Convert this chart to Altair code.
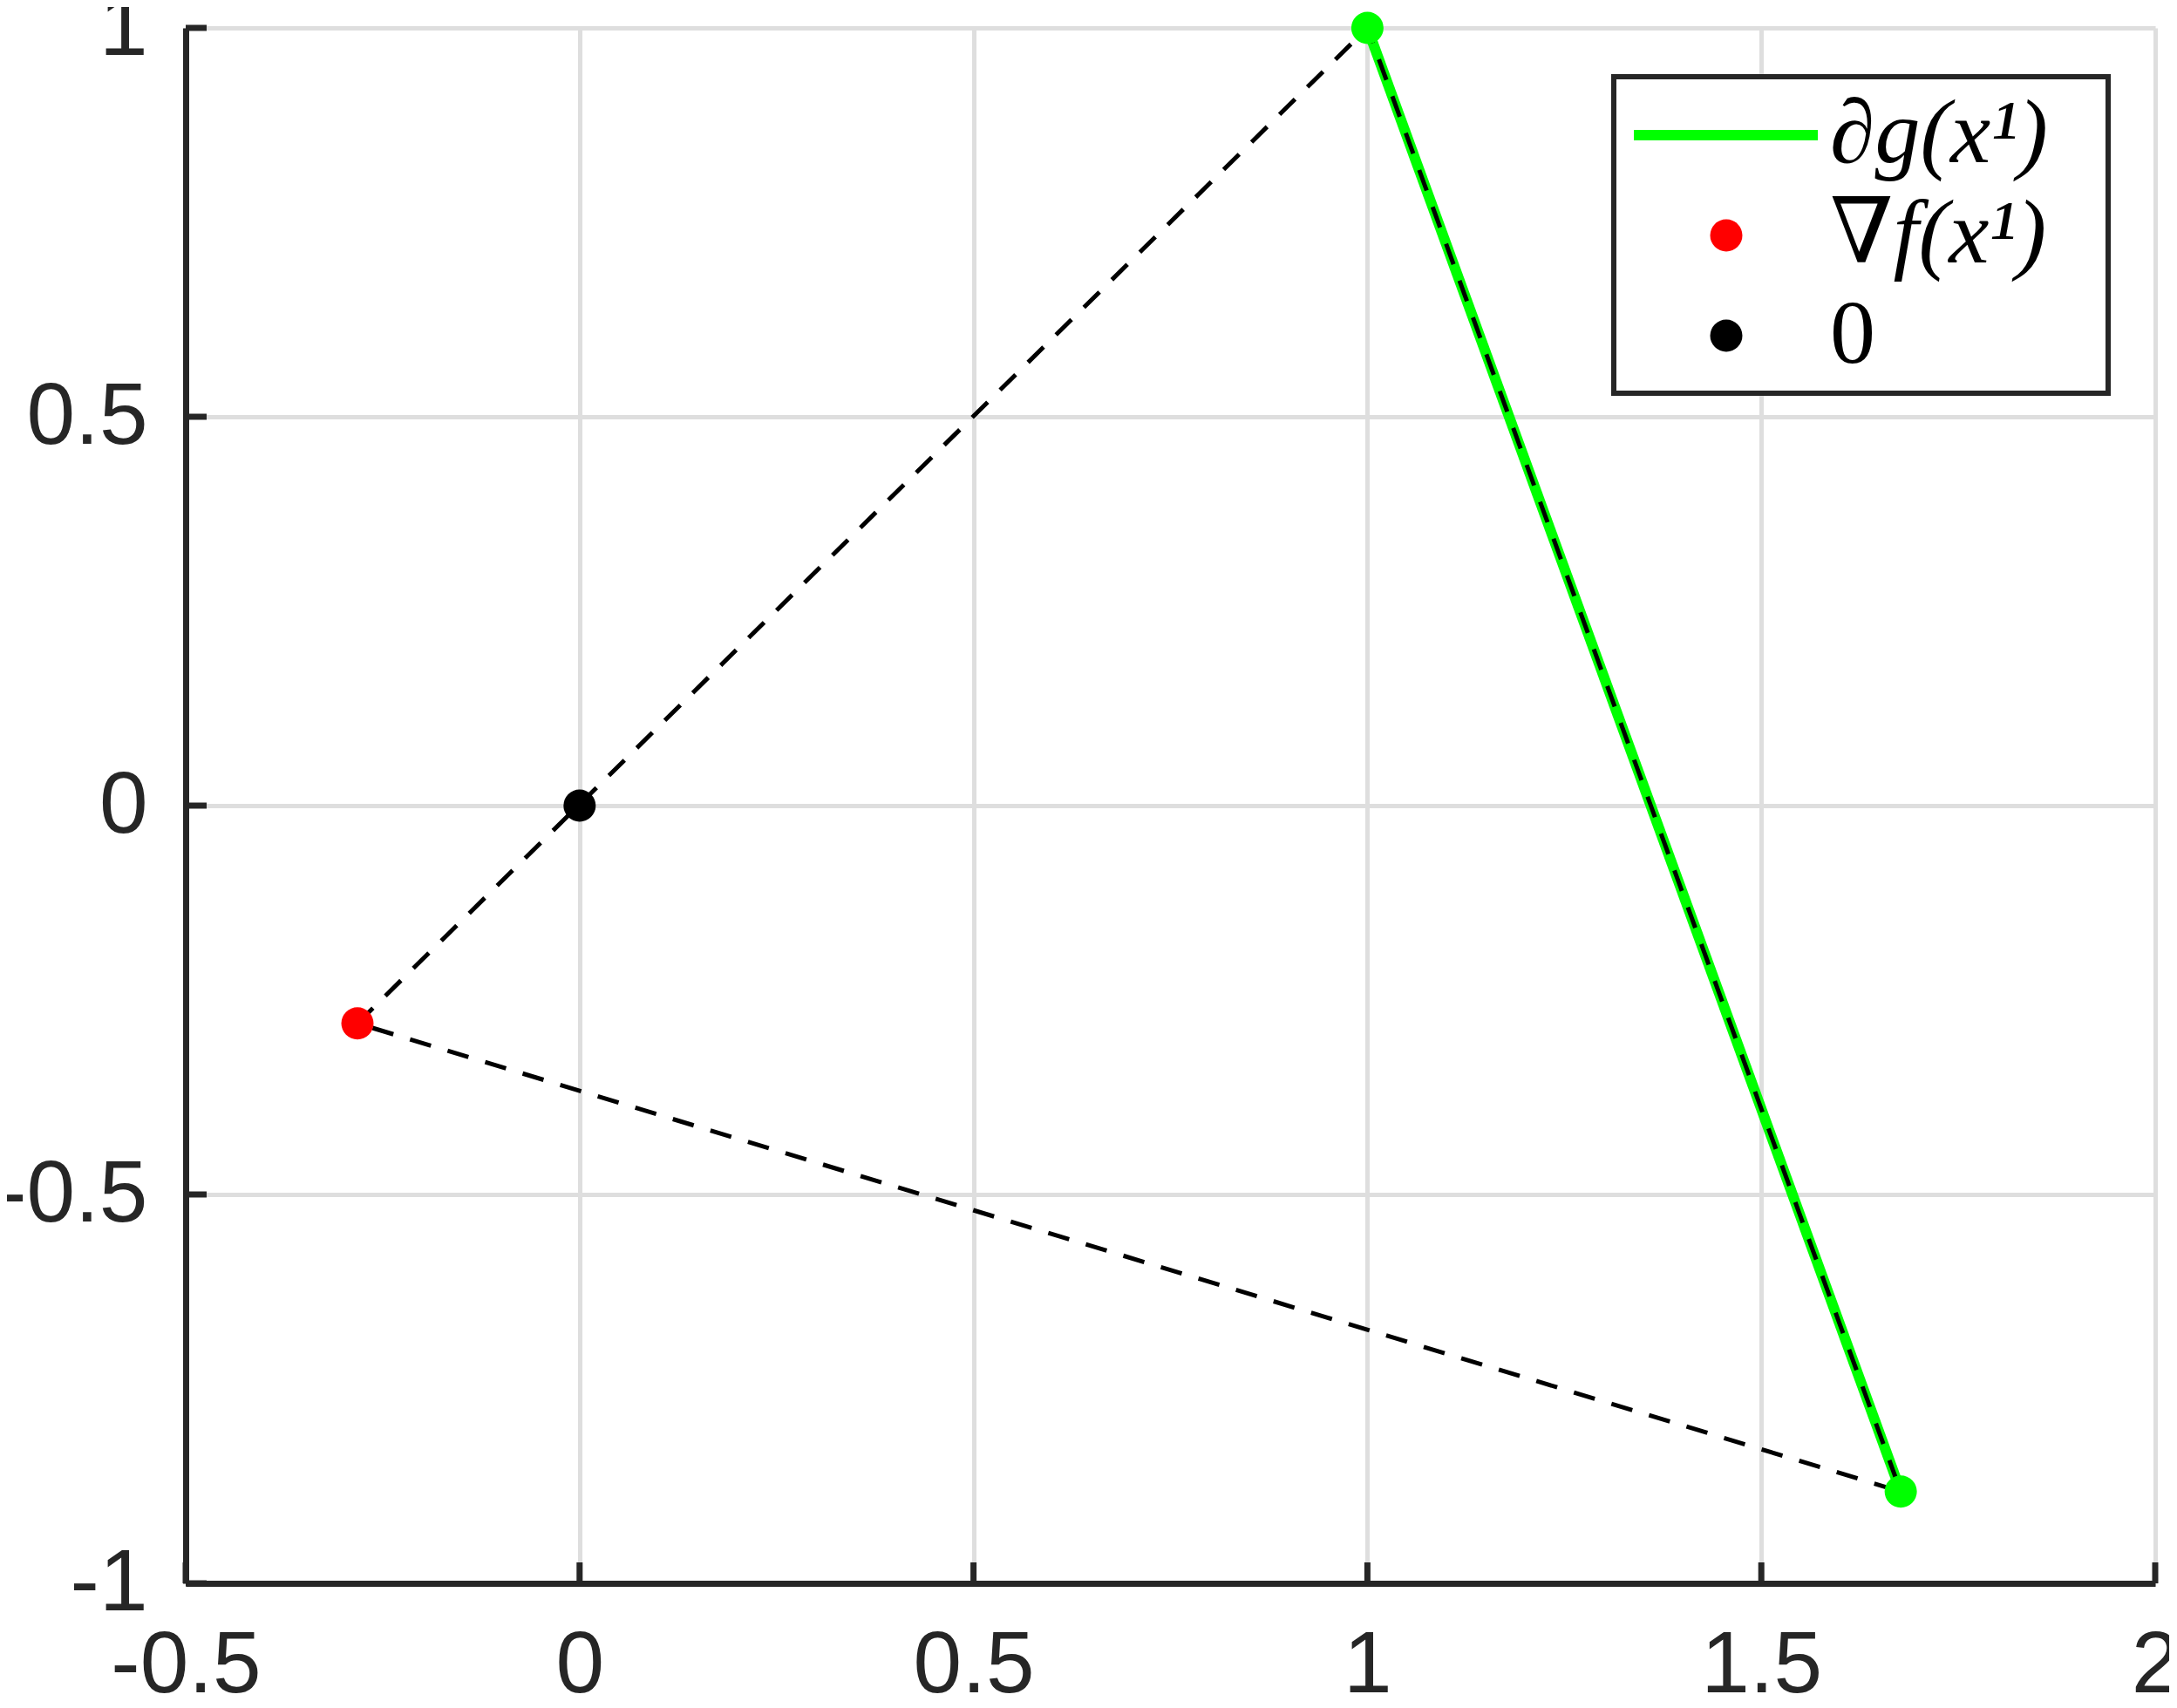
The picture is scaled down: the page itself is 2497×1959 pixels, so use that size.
import altair as alt
import pandas as pd

# data
seg_x = [1.0, 1.677]
seg_y = [1.0, -0.882]
tri_x = [-0.282, 1.0, 1.677, -0.282]
tri_y = [-0.28, 1.0, -0.882, -0.28]
pt_x = [1.0, 1.677, -0.282, 0.0]
pt_y = [1.0, -0.882, -0.28, 0.0]
pt_series = ["∂g(x¹)", "∂g(x¹)", "∇f(x¹)", "0"]
series_names = ["∂g(x¹)", "∇f(x¹)", "0"]
series_colors = ["#00ff00", "#ff0000", "#000000"]
x_ticks = [-0.5, 0, 0.5, 1, 1.5, 2]
y_ticks = [-1, -0.5, 0, 0.5, 1]

W, H = 2259, 1784
TICK = 24

seg_df = pd.DataFrame({"x": seg_x, "y": seg_y, "i": list(range(len(seg_x)))})
tri_df = pd.DataFrame({"x": tri_x, "y": tri_y, "i": list(range(len(tri_x)))})
pt_df = pd.DataFrame({"x": pt_x, "y": pt_y, "series": pt_series})
xt_df = pd.DataFrame({"v": x_ticks})
yt_df = pd.DataFrame({"v": y_ticks})

AX = "#262626"
FONT = "Liberation Sans"

x_axis = alt.Axis(
    values=x_ticks, labelExpr="'' + datum.value", title=None,
    grid=True, gridColor="#dedede", gridWidth=5,
    domainColor=AX, domainWidth=7, ticks=False, tickSize=0,
    labelFont=FONT, labelFontSize=100, labelColor=AX, labelPadding=45,
    labelFlush=False, labelOverlap=False,
)
y_axis = alt.Axis(
    values=y_ticks, labelExpr="'' + datum.value", title=None,
    grid=True, gridColor="#dedede", gridWidth=5,
    domainColor=AX, domainWidth=7, ticks=False, tickSize=0,
    labelFont=FONT, labelFontSize=100, labelColor=AX, labelPadding=44,
    labelFlush=False, labelOverlap=False,
)

xs = alt.Scale(domain=[-0.5, 2], nice=False, zero=False)
ys = alt.Scale(domain=[-1, 1], nice=False, zero=False)


def X(f):
    return alt.X(f, scale=xs, axis=x_axis)


def Y(f):
    return alt.Y(f, scale=ys, axis=y_axis)


green = alt.Chart(seg_df).mark_line(color="#00ff00", strokeWidth=12).encode(
    x=X("x:Q"), y=Y("y:Q"), order="i:Q",
)

dashed = alt.Chart(tri_df).mark_line(color="black", strokeWidth=5, strokeDash=[25, 20]).encode(
    x=X("x:Q"), y=Y("y:Q"), order="i:Q",
)

xticks = alt.Chart(xt_df).mark_rule(color=AX, strokeWidth=7).encode(
    x=X("v:Q"), y=alt.value(H), y2=alt.value(H - TICK)
)
yticks = alt.Chart(yt_df).mark_rule(color=AX, strokeWidth=7).encode(
    y=Y("v:Q"), x=alt.value(0), x2=alt.value(TICK)
)

points = alt.Chart(pt_df).mark_point(filled=True, size=1369, opacity=1).encode(
    x=X("x:Q"), y=Y("y:Q"),
    color=alt.Color("series:N", scale=alt.Scale(domain=series_names, range=series_colors), legend=None),
    shape=alt.value("circle"),
)

# legend (drawn as a box with a key for each series)
LX, LY, LW, LH = 1638, 56, 567, 363
ROW_Y = [LY + 67, LY + 182, LY + 297]
one = pd.DataFrame({"a": [0]})

leg_box = alt.Chart(one).mark_rect(fill="white", stroke=AX, strokeWidth=6).encode(
    x=alt.value(LX), x2=alt.value(LX + LW), y=alt.value(LY), y2=alt.value(LY + LH)
)
leg_line = alt.Chart(one).mark_rule(color=series_colors[0], strokeWidth=12).encode(
    x=alt.value(LX + 23), x2=alt.value(LX + 234), y=alt.value(ROW_Y[0])
)
leg_parts = [leg_box, leg_line]
for k in (1, 2):
    leg_parts.append(
        alt.Chart(one).mark_point(filled=True, size=1369, opacity=1, shape="circle",
                                  color=series_colors[k]).encode(
            x=alt.value(LX + 129), y=alt.value(ROW_Y[k])
        )
    )
for k, name in enumerate(series_names):
    leg_parts.append(
        alt.Chart(pd.DataFrame({"name": [name]})).mark_text(
            align="left", baseline="middle", font="Liberation Serif, DejaVu Serif",
            fontStyle="normal" if k == 2 else "italic", fontSize=104, color="black",
        ).encode(x=alt.value(LX + 248), y=alt.value(ROW_Y[k]), text="name:N")
    )

chart = alt.layer(green, dashed, xticks, yticks, points, *leg_parts).properties(
    width=W, height=H,
    padding={"left": 205, "top": 24, "right": 16, "bottom": 132},
    autosize=alt.AutoSizeParams(type="none"),
).configure_view(stroke=None)

chart.save("out.html", embed_options={"renderer": "svg", "actions": False})
